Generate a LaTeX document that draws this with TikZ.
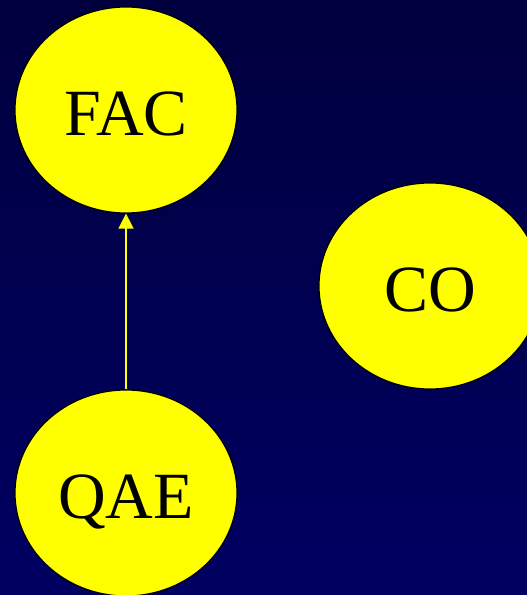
\documentclass[tikz,border=0pt]{standalone}
\usepackage{fontspec}
\setmainfont{Liberation Serif}
\usetikzlibrary{shapes.geometric,arrows.meta}
\definecolor{bgtop}{RGB}{0,0,62}
\definecolor{bgbot}{RGB}{0,0,98}
\definecolor{ylw}{RGB}{255,255,0}
\tikzset{
  bubble/.style={ellipse,draw=black,line width=1.2pt,fill=ylw,minimum width=222pt,minimum height=206pt,inner sep=0pt,font=\fontsize{66}{66}\selectfont,text=black,text height=50pt,text depth=0pt},
  link/.style={draw=ylw,line width=1.5pt,-{Triangle[width=15pt,length=15pt]}}
}
\begin{document}
\begin{tikzpicture}[x=1pt,y=-1pt]
\useasboundingbox (0,0) rectangle (527,595);
\clip (0,0) rectangle (527,595);
\shade[top color=bgtop,bottom color=bgbot] (0,0) rectangle (527,595);
\node[bubble] (fac) at (126,110) {FAC};
\node[bubble] (co) at (430,286) {CO};
\node[bubble] (qae) at (126,493) {QAE};
\draw[link] (qae) -- (fac);
\end{tikzpicture}
\end{document}
